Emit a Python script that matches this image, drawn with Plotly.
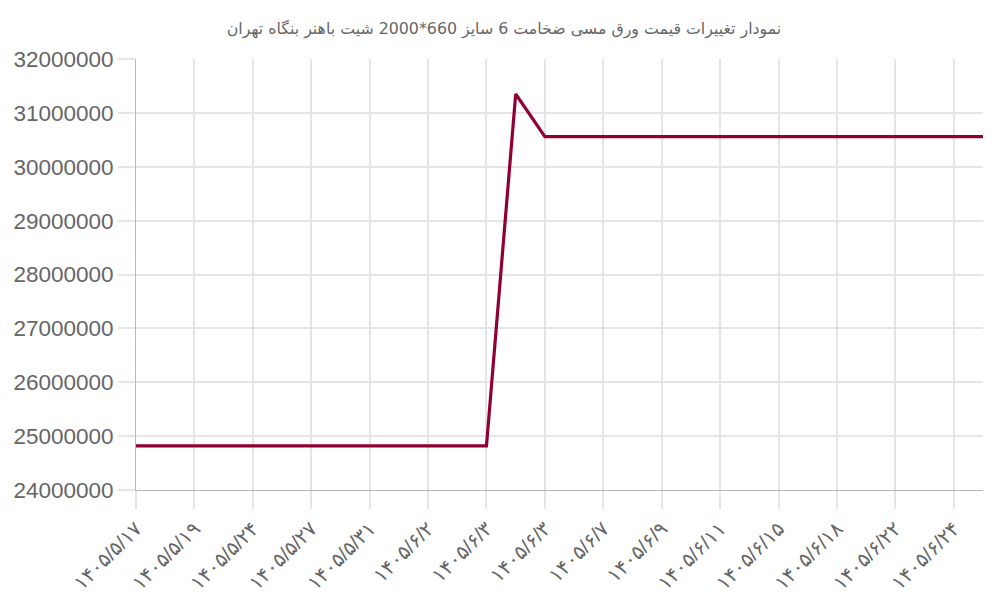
import plotly.graph_objects as go

chart_title = "نمودار تغییرات قیمت ورق مسی ضخامت 6 سایز 660*2000 شیت باهنر بنگاه تهران"

tick_labels = ["۱۴۰۵/۵/۱۷", "۱۴۰۵/۵/۱۹", "۱۴۰۵/۵/۲۴", "۱۴۰۵/۵/۲۷", "۱۴۰۵/۵/۳۱",
               "۱۴۰۵/۶/۲", "۱۴۰۵/۶/۳", "۱۴۰۵/۶/۳", "۱۴۰۵/۶/۷", "۱۴۰۵/۶/۹",
               "۱۴۰۵/۶/۱۱", "۱۴۰۵/۶/۱۵", "۱۴۰۵/۶/۱۸", "۱۴۰۵/۶/۲۲", "۱۴۰۵/۶/۲۴"]

prices = [24820000, 24820000, 24820000, 24820000, 24820000, 24820000,
          24820000, 24820000, 24820000, 24820000, 24820000, 24820000,
          24820000, 31350000, 30560000, 30560000, 30560000, 30560000,
          30560000, 30560000, 30560000, 30560000, 30560000, 30560000,
          30560000, 30560000, 30560000, 30560000, 30560000, 30560000]

# every second point carries a label (the rest are skipped like in the original)
x = list(range(len(prices)))
tickvals = x[::2]

fig = go.Figure()
fig.add_trace(go.Scatter(
    x=x, y=prices,
    mode="lines",
    line=dict(color="#8f0035", width=3.2),
    hoverinfo="y",
))

grid = "#e5e5e5"
axis = "rgba(0,0,0,0.28)"

# page body has an 8px margin, so the figure is 8px smaller than the window
fig.update_layout(
    width=992, height=592,
    margin=dict(l=128, r=17, t=51, b=110),
    paper_bgcolor="white", plot_bgcolor="white",
    showlegend=False,
    font=dict(family="Liberation Sans, DejaVu Sans, sans-serif", color="#666"),
    title=dict(text=chart_title, x=0.5, xanchor="center", y=0.965, yanchor="middle",
               font=dict(size=15.8, color="#666", family="DejaVu Sans, Liberation Sans")),
)
fig.update_xaxes(
    range=[0, len(prices) - 1],
    tickvals=tickvals, ticktext=tick_labels,
    tickangle=-45,
    tickfont=dict(size=20, color="#666"),
    showgrid=True, gridcolor=grid, gridwidth=1.5,
    ticks="outside", ticklen=18, tickcolor=grid, tickwidth=1.5,
    showline=True, linecolor=axis, linewidth=1,
    zeroline=False, automargin=False,
)
fig.update_yaxes(
    range=[24000000, 32000000],
    dtick=1000000, tickformat="d",
    tickfont=dict(size=22.5, color="#666"),
    showgrid=True, gridcolor=grid, gridwidth=1.5,
    ticks="outside", ticklen=17, tickcolor=grid, tickwidth=1.5,
    showline=True, linecolor=axis, linewidth=1,
    zeroline=False, automargin=False,
)

fig.write_html("out.html")
